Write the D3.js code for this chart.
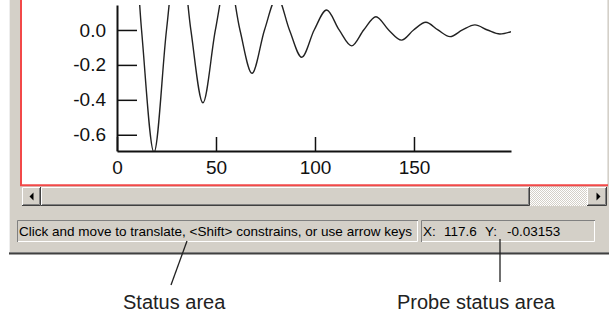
<!DOCTYPE html>
<html>
<head>
<meta charset="utf-8">
<script src="https://cdn.jsdelivr.net/npm/d3@7"></script>
<style>
  html, body { margin: 0; padding: 0; background: #ffffff; }
  svg { display: block; }
  text { font-family: "Liberation Sans", Arial, sans-serif; }
</style>
</head>
<body>
<svg id="chart" width="609" height="313"></svg>
<script>
// ---- data ----
const curveX = [0, 6, 12.4, 18.7, 25.0, 31.2, 37.3, 43.4, 49.7, 56.0, 62.1, 68.2, 74.5, 80.9, 87.1, 93.3,
                99.6, 105.9, 112.2, 118.5, 124.6, 130.8, 137.2, 143.7, 149.8, 156.0, 162.1, 168.2,
                174.5, 180.8, 187.1, 193.4, 199.0];
const curveY = [0.85, 0.93, 0.0, -0.70, 0.0, 0.54, 0.0, -0.417, 0.0, 0.32, 0.0, -0.248, 0.0, 0.19, 0.0, -0.156,
                0.0, 0.114, 0.0, -0.091, 0.0, 0.076, 0.0, -0.058, 0.0, 0.044, 0.0, -0.038,
                0.0, 0.029, 0.0, -0.023, -0.010];
const xDomain = [0, 199];
const yDomain = [-0.693, 0.143];
const xMajorTicks = [0, 50, 100, 150];
const xMinorTicks = [10, 20, 30, 40, 60, 70, 80, 90, 110, 120, 130, 140, 160, 170, 180, 190];
const yMajorTicks = [0.0, -0.2, -0.4, -0.6];
const yMajorLabels = ["0.0", "-0.2", "-0.4", "-0.6"];
const yMinorTicks = [0.1, 0.05, -0.05, -0.1, -0.15, -0.25, -0.3, -0.35, -0.45, -0.5, -0.55, -0.65];
const statusText = "Click and move to translate, <Shift> constrains, or use arrow keys";
const probeParts = ["X:", "117.6", "Y:", "-0.03153"];
const calloutLabels = ["Status area", "Probe status area"];

const svg = d3.select("#chart");
const GRAY = "#d4d0c8";

// ---- window chrome ----
svg.append("rect").attr("x", 9).attr("y", -5).attr("width", 600).attr("height", 258).attr("fill", GRAY);
svg.append("line").attr("x1", 9.5).attr("x2", 9.5).attr("y1", -5).attr("y2", 253).attr("stroke", "#eeeeee");
svg.append("line").attr("x1", 9).attr("x2", 609).attr("y1", 252.5).attr("y2", 252.5).attr("stroke", "#808080");
svg.append("line").attr("x1", 9).attr("x2", 609).attr("y1", 253.8).attr("y2", 253.8).attr("stroke", "#404040").attr("stroke-width", 1.5);

// plot panel
svg.append("rect").attr("x", 21).attr("y", -5).attr("width", 586).attr("height", 190).attr("fill", "#ffffff");
svg.append("line").attr("x1", 607.5).attr("x2", 607.5).attr("y1", -5).attr("y2", 185).attr("stroke", "#e4e2de");
svg.append("line").attr("x1", 21).attr("x2", 21).attr("y1", -5).attr("y2", 186).attr("stroke", "#f24848").attr("stroke-width", 2);
svg.append("line").attr("x1", 20).attr("x2", 608).attr("y1", 185.3).attr("y2", 185.3).attr("stroke", "#f24848").attr("stroke-width", 2);

// scrollbar
const defs = svg.append("defs");
const pat = defs.append("pattern").attr("id", "dither").attr("width", 2).attr("height", 2).attr("patternUnits", "userSpaceOnUse");
pat.append("rect").attr("width", 2).attr("height", 2).attr("fill", "#ffffff");
pat.append("rect").attr("width", 1).attr("height", 1).attr("fill", GRAY);
pat.append("rect").attr("x", 1).attr("y", 1).attr("width", 1).attr("height", 1).attr("fill", GRAY);

function raised(x, y, w, h) {
  const g = svg.append("g");
  g.append("rect").attr("x", x).attr("y", y).attr("width", w).attr("height", h).attr("fill", GRAY);
  g.append("path").attr("d", `M${x + 0.5},${y + h - 1}V${y + 0.5}H${x + w - 1}`).attr("fill", "none").attr("stroke", "#ffffff");
  g.append("path").attr("d", `M${x + 1},${y + h - 1.5}H${x + w - 1.5}V${y + 1}`).attr("fill", "none").attr("stroke", "#808080");
  g.append("path").attr("d", `M${x},${y + h - 0.5}H${x + w - 0.5}V${y}`).attr("fill", "none").attr("stroke", "#404040");
  return g;
}
svg.append("rect").attr("x", 41).attr("y", 187).attr("width", 546).attr("height", 19).attr("fill", "url(#dither)");
raised(22, 187, 19, 19);
raised(41, 187, 489, 19);
raised(587, 187, 20, 19);
svg.append("path").attr("d", "M29.5,196.5L33.5,192.5V200.5Z").attr("fill", "#000");
svg.append("path").attr("d", "M600.5,196.5L596.5,192.5V200.5Z").attr("fill", "#000");

// status panels (sunken)
function sunken(x, y, w, h) {
  svg.append("rect").attr("x", x).attr("y", y).attr("width", w).attr("height", h).attr("fill", GRAY);
  svg.append("path").attr("d", `M${x + 0.5},${y + h}V${y + 0.5}H${x + w}`).attr("fill", "none").attr("stroke", "#808080");
  svg.append("path").attr("d", `M${x + 1},${y + h - 0.5}H${x + w - 0.5}V${y + 1}`).attr("fill", "none").attr("stroke", "#ffffff");
}
sunken(17, 220, 401, 22);
sunken(421, 220, 174, 22);

const st = svg.append("text").attr("x", 19).attr("y", 236).attr("font-size", 13.5).attr("fill", "#000").text(statusText);
const stLen = st.node().getComputedTextLength();
st.attr("textLength", 393).attr("lengthAdjust", "spacingAndGlyphs");
const probeX = [423, 444, 485, 507];
probeParts.forEach((t, i) => {
  svg.append("text").attr("x", probeX[i]).attr("y", 236).attr("font-size", 13.5).attr("fill", "#000").text(t);
});

// ---- chart ----
const x = d3.scaleLinear().domain(xDomain).range([117, 511]);
const y = d3.scaleLinear().domain(yDomain).range([151, 5]);

defs.append("clipPath").attr("id", "clip").append("rect")
  .attr("x", x.range()[0]).attr("y", y.range()[1])
  .attr("width", x.range()[1] - x.range()[0]).attr("height", y.range()[0] - y.range()[1]);

const pts = curveX.map((d, i) => [d, curveY[i]]);
const line = d3.line().x(d => x(d[0])).y(d => y(d[1])).curve(d3.curveMonotoneX);
svg.append("path").attr("d", line(pts)).attr("clip-path", "url(#clip)")
  .attr("fill", "none").attr("stroke", "#222").attr("stroke-width", 1.4);

const axStroke = "#111";
// x axis
const gx = svg.append("g").attr("transform", `translate(0,${y.range()[0]})`);
gx.call(d3.axisBottom(x).tickValues(xMinorTicks).tickSize(-7).tickSizeOuter(0).tickFormat(""));
gx.call(d3.axisBottom(x).tickValues(xMajorTicks).tickSize(-14).tickSizeOuter(0).tickPadding(10).tickFormat(d3.format("d")));
// y axis
const gy = svg.append("g").attr("transform", `translate(${x.range()[0]},0)`);
gy.call(d3.axisLeft(y).tickValues(yMinorTicks).tickSize(-11).tickSizeOuter(0).tickFormat(""));
gy.call(d3.axisLeft(y).tickValues(yMajorTicks).tickSize(-20).tickSizeOuter(0).tickPadding(11)
  .tickFormat((d, i) => yMajorLabels[i]));

svg.selectAll(".domain").attr("stroke", axStroke).attr("stroke-width", 2);
svg.selectAll(".tick line").attr("stroke", axStroke).attr("stroke-width", 1.5);
svg.selectAll(".tick text").attr("font-size", 19).attr("fill", "#111")
  .attr("font-family", "'Liberation Sans', Arial, sans-serif");

// ---- callouts ----
svg.append("line").attr("x1", 187).attr("y1", 241).attr("x2", 171).attr("y2", 285).attr("stroke", "#222").attr("stroke-width", 1.3);
svg.append("line").attr("x1", 500).attr("y1", 239).attr("x2", 500).attr("y2", 282).attr("stroke", "#222").attr("stroke-width", 1.3);
svg.append("text").attr("x", 123).attr("y", 309).attr("font-size", 20).attr("fill", "#222").text(calloutLabels[0]);
svg.append("text").attr("x", 397).attr("y", 309).attr("font-size", 20).attr("fill", "#222").text(calloutLabels[1]);
</script>
</body>
</html>
